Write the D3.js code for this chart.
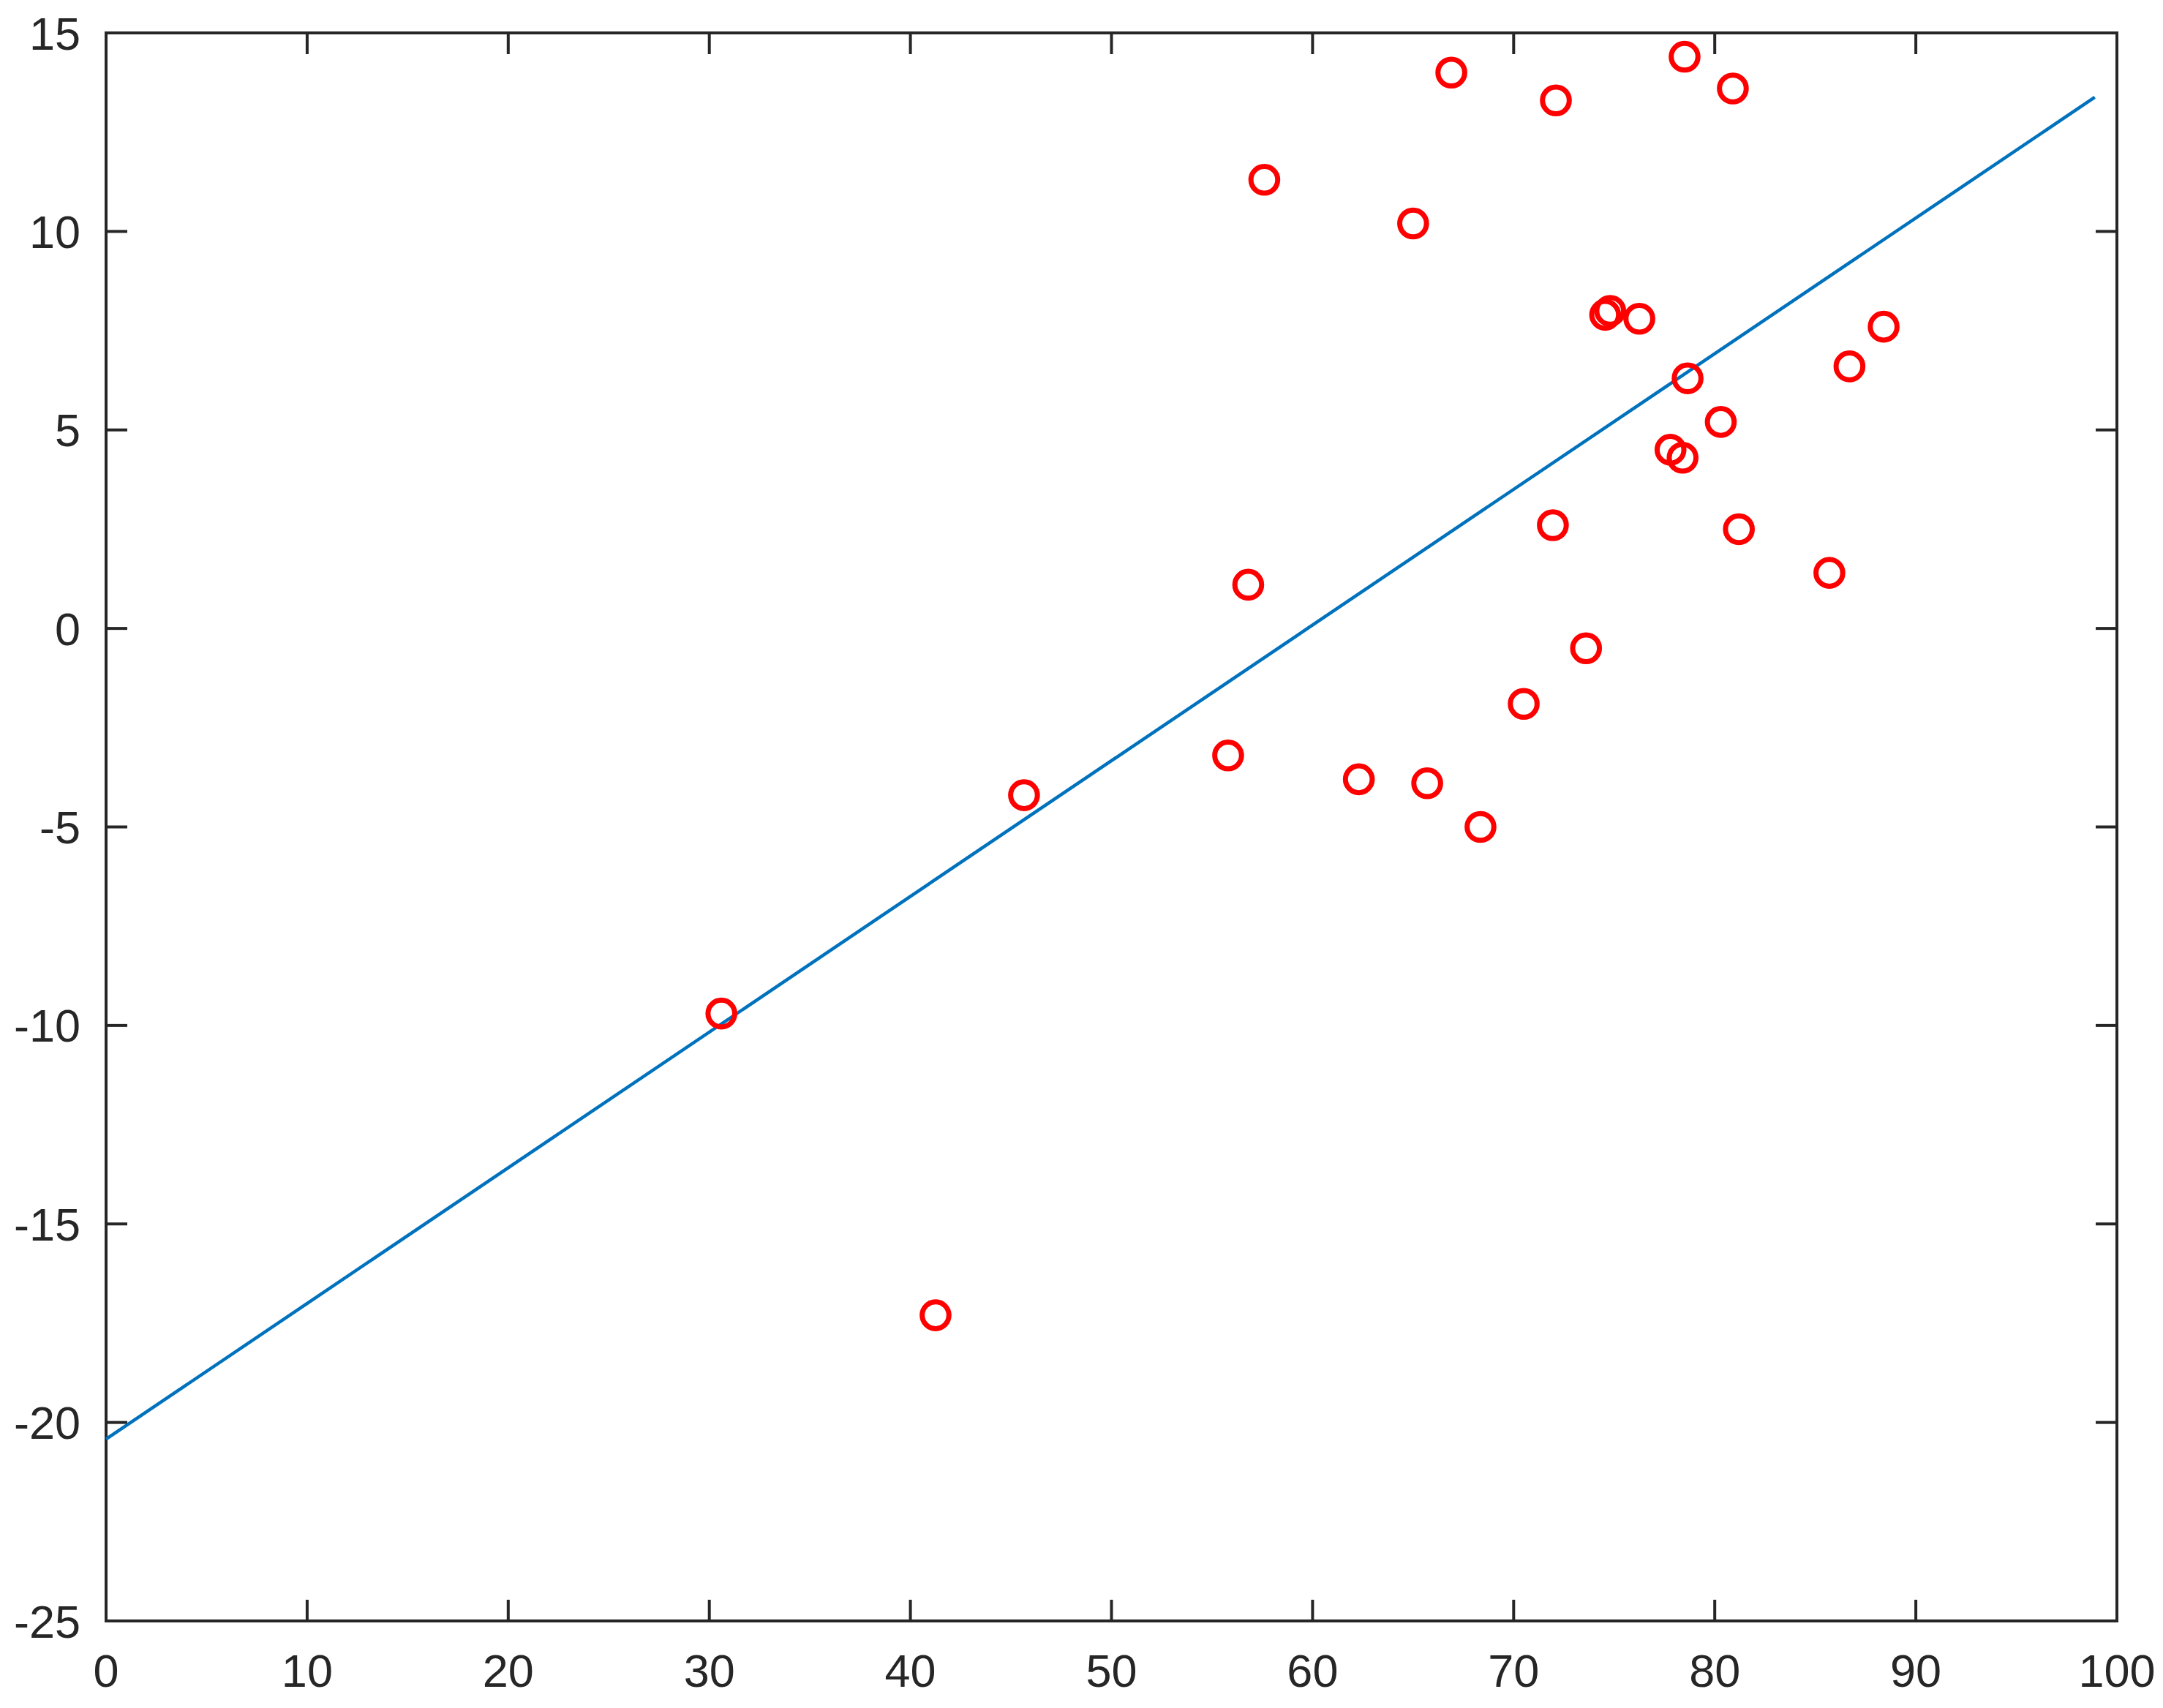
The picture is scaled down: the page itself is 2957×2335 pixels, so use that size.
<!DOCTYPE html>
<meta charset='utf-8'>
<style>

body {
  margin: 0;
  background: #fff;
}

text {
  font-family: 'Liberation Sans', Arial, sans-serif;
  font-size: 63px;
  fill: #262626;
}

.frame line, .frame rect {
  stroke: #262626;
  stroke-width: 4;
  fill: none;
}

</style>
<svg width='2957' height='2335'></svg>

<script src='https://d3js.org/d3.v7.min.js'></script>

<script>

// scatter points
var xVals = [30.6, 41.25, 45.65, 55.8, 56.8, 57.6, 62.3, 65.0, 65.7, 66.9,
             68.35, 70.5, 71.95, 72.1, 73.6, 74.55, 74.8, 76.25, 77.8, 78.4,
             78.65, 78.5, 80.3, 80.9, 81.2, 85.7, 86.7, 88.4];
var yVals = [-9.7, -17.3, -4.2, -3.2, 1.1, 11.3, -3.8, 10.2, -3.9, 14.0,
             -5.0, -1.9, 2.6, 13.3, -0.5, 7.9, 8.0, 7.8, 4.5, 4.3,
             6.3, 14.4, 5.2, 13.6, 2.5, 1.4, 6.6, 7.6];

// fitted line end points
var fitX = [0, 98.9];
var fitY = [-20.42, 13.38];

var xTicks = [0, 10, 20, 30, 40, 50, 60, 70, 80, 90, 100];
var yTicks = [-25, -20, -15, -10, -5, 0, 5, 10, 15];

var svg = d3.select('svg'),
    plotLeft = 145,
    plotRight = 2894,
    plotTop = 45,
    plotBottom = 2216,
    tickLen = 29;

var x = d3.scaleLinear().domain([0, 100]).range([plotLeft, plotRight]),
    y = d3.scaleLinear().domain([-25, 15]).range([plotBottom, plotTop]);

var fmt = function(d) { return String(d); };

var frame = svg.append('g').attr('class', 'frame');

// ticks, drawn inward on all four sides
xTicks.forEach(function(t) {
    frame.append('line').attr('x1', x(t)).attr('x2', x(t)).attr('y1', plotBottom).attr('y2', plotBottom - tickLen);
    frame.append('line').attr('x1', x(t)).attr('x2', x(t)).attr('y1', plotTop).attr('y2', plotTop + tickLen);
});
yTicks.forEach(function(t) {
    frame.append('line').attr('y1', y(t)).attr('y2', y(t)).attr('x1', plotLeft).attr('x2', plotLeft + tickLen);
    frame.append('line').attr('y1', y(t)).attr('y2', y(t)).attr('x1', plotRight).attr('x2', plotRight - tickLen);
});

frame.append('rect')
    .attr('x', plotLeft)
    .attr('y', plotTop)
    .attr('width', plotRight - plotLeft)
    .attr('height', plotBottom - plotTop);

svg.append('g')
    .selectAll('text')
    .data(xTicks)
    .enter()
    .append('text')
    .attr('x', function(d) { return x(d); })
    .attr('y', 2306)
    .attr('text-anchor', 'middle')
    .text(fmt);

svg.append('g')
    .selectAll('text')
    .data(yTicks)
    .enter()
    .append('text')
    .attr('x', plotLeft - 35)
    .attr('y', function(d) { return y(d); })
    .attr('dy', '0.358em')
    .attr('text-anchor', 'end')
    .text(fmt);

var valueline = d3.line()
    .x(function(d) { return x(d[0]); })
    .y(function(d) { return y(d[1]); });

svg.append('path')
    .datum(d3.zip(fitX, fitY))
    .attr('d', valueline)
    .attr('fill', 'none')
    .attr('stroke', '#0072BD')
    .attr('stroke-width', 4.5);

svg.append('g')
    .selectAll('circle')
    .data(d3.zip(xVals, yVals))
    .enter()
    .append('circle')
    .attr('cx', function(d) { return x(d[0]); })
    .attr('cy', function(d) { return y(d[1]); })
    .attr('r', 18.3)
    .attr('fill', 'none')
    .attr('stroke', '#FF0000')
    .attr('stroke-width', 7);

</script>
